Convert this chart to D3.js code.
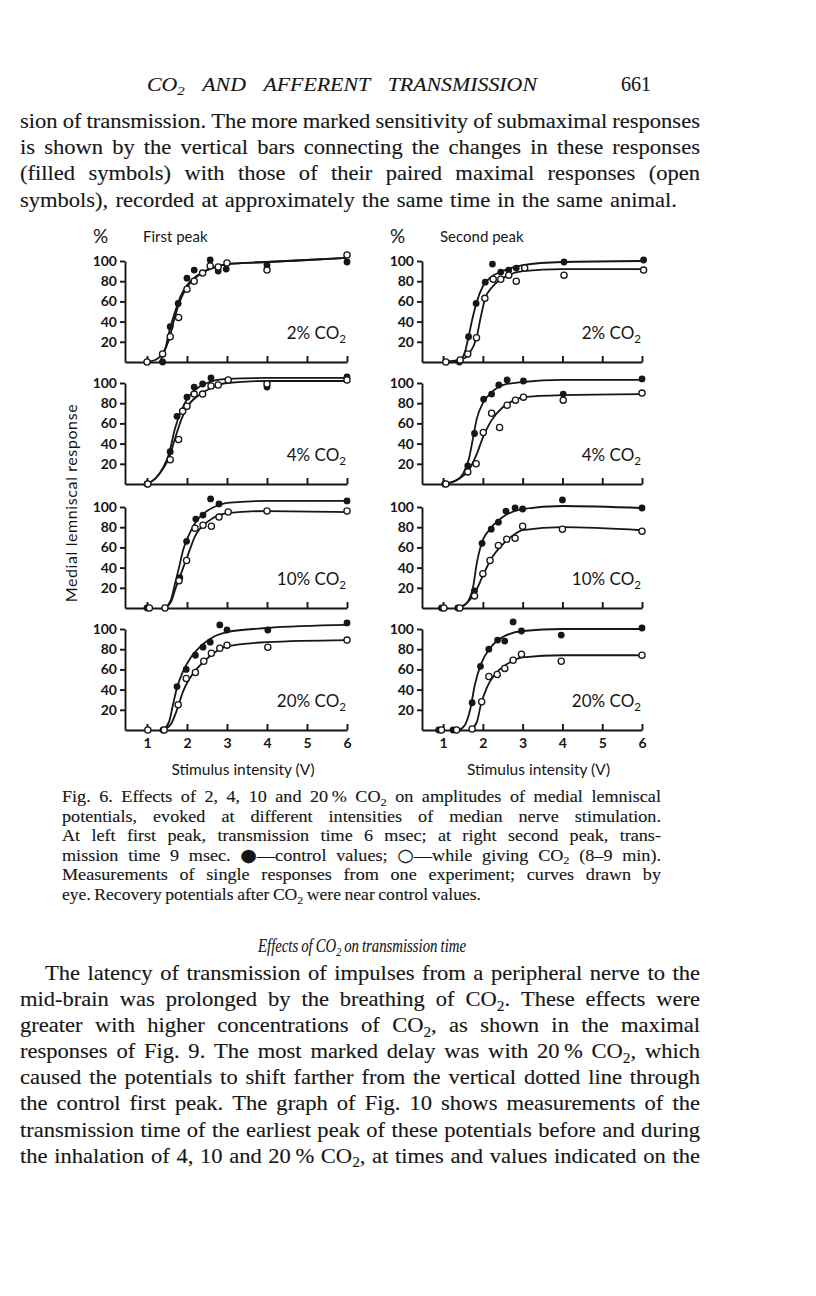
<!DOCTYPE html>
<html>
<head>
<meta charset="utf-8">
<script src="https://cdnjs.cloudflare.com/ajax/libs/d3/7.8.5/d3.min.js"></script>
<style>
  body { margin: 0; background: #fff; }
  svg { display: block; }
</style>
</head>
<body>
<svg id="page" width="816" height="1296"></svg>
<script>
// ---- data (x = stimulus in V, y = % of max response) ----
const peaks = ["First peak", "Second peak"];
const concentrations = ["2% CO_2", "4% CO_2", "10% CO_2", "20% CO_2"];
const xTicks = [1, 2, 3, 4, 5, 6];
const yTicks = [20, 40, 60, 80, 100];

// first peak
const first2Control = [[1.39,0],[1.58,35],[1.78,58],[2.0,83],[2.18,91],[2.58,101],[2.78,90],[2.98,92],[4.0,96],[6.0,99]];
const first2CO2 = [[1.0,0],[1.39,8],[1.58,25],[1.79,44],[2.0,72],[2.18,80],[2.39,88],[2.58,95],[2.78,94],[3.0,98],[4.0,91],[6.0,106]];
const first2ControlCurve = [[1.32,0],[1.45,12],[1.58,34],[1.72,52],[1.85,66],[2.0,76],[2.2,84],[2.5,91],[2.8,95],[3.0,97],[4.0,99],[6.0,103]];
const first2CO2Curve = [[1.0,0],[1.25,3],[1.4,9],[1.55,22],[1.68,42],[1.82,60],[2.0,74],[2.2,83],[2.5,91],[2.8,95],[3.0,97],[4.0,99],[6.0,103]];

const first4Control = [[1.0,0],[1.58,32],[1.75,67],[2.0,86],[2.18,96],[2.39,99],[2.6,105],[4.0,96],[6.0,106]];
const first4CO2 = [[1.02,0],[1.58,24],[1.79,44],[1.89,72],[2.0,77],[2.18,89],[2.39,89],[2.6,97],[2.78,98],[3.03,103],[4.0,99],[6.0,103]];
const first4ControlCurve = [[1.0,0],[1.2,5],[1.4,16],[1.55,30],[1.7,55],[1.85,72],[2.0,84],[2.2,93],[2.5,100],[3.0,104],[4.0,105],[6.0,105]];
const first4CO2Curve = [[1.0,0],[1.2,5],[1.4,15],[1.55,26],[1.7,45],[1.85,63],[2.0,76],[2.3,88],[2.6,95],[3.0,100],[4.0,102],[6.0,102]];

const first10Control = [[1.0,0],[1.82,30],[1.99,66],[2.22,88],[2.4,92],[2.59,108],[2.8,103],[6.0,106]];
const first10CO2 = [[1.06,0],[1.45,0],[1.8,27],[1.99,47],[2.2,79],[2.4,82],[2.61,81],[2.8,90],[3.03,95],[4.0,96],[6.0,96]];
const first10ControlCurve = [[1.45,0],[1.6,8],[1.7,24],[1.8,40],[1.9,57],[2.0,68],[2.2,84],[2.5,96],[2.8,102],[3.0,104],[4.0,106],[6.0,106]];
const first10CO2Curve = [[1.45,0],[1.6,6],[1.72,20],[1.85,34],[2.0,50],[2.2,71],[2.5,85],[2.8,92],[3.0,94],[4.0,96],[6.0,95]];

const first20Control = [[1.4,0],[1.75,43],[1.98,60],[2.21,74],[2.4,82],[2.58,87],[2.82,104],[3.0,99],[4.02,99],[6.0,106]];
const first20CO2 = [[1.02,0],[1.43,0],[1.78,25],[1.98,51],[2.21,57],[2.42,68],[2.61,76],[2.82,81],[3.0,84],[4.02,82],[6.0,89]];
const first20ControlCurve = [[1.4,0],[1.55,8],[1.65,25],[1.75,42],[1.9,58],[2.1,72],[2.4,85],[2.7,93],[3.0,97],[4.0,101],[6.0,104]];
const first20CO2Curve = [[1.4,0],[1.6,6],[1.75,20],[1.9,38],[2.05,50],[2.3,63],[2.6,74],[3.0,83],[4.0,87],[6.0,89]];

// second peak
const second2Control = [[1.41,0],[1.64,25],[1.83,58],[2.06,79],[2.24,97],[2.45,89],[2.65,91],[2.84,93],[4.04,99],[6.04,101]];
const second2CO2 = [[1.07,0],[1.43,2],[1.62,8],[1.84,24],[2.05,63],[2.26,82],[2.45,82],[2.65,86],[2.84,80],[3.05,93],[4.04,86],[6.04,91]];
const second2ControlCurve = [[1.0,0],[1.4,1],[1.55,10],[1.64,25],[1.75,45],[1.85,60],[2.0,75],[2.2,84],[2.5,90],[3.0,96],[4.0,99],[6.0,100]];
const second2CO2Curve = [[1.0,0],[1.5,3],[1.65,8],[1.84,24],[1.95,45],[2.05,62],[2.25,75],[2.5,83],[3.0,90],[4.0,92],[6.0,92]];

const second4Control = [[1.04,0],[1.62,18],[1.79,50],[2.02,84],[2.22,89],[2.4,98],[2.61,103],[3.02,102],[4.02,89],[6.0,104]];
const second4CO2 = [[1.07,0],[1.62,12],[1.83,20],[2.01,51],[2.22,70],[2.42,56],[2.61,78],[2.82,83],[3.02,86],[4.02,83],[6.0,90]];
const second4ControlCurve = [[1.0,0],[1.3,3],[1.5,10],[1.65,25],[1.75,45],[1.85,65],[2.0,80],[2.2,90],[2.5,98],[3.0,101],[4.0,103],[6.0,103]];
const second4CO2Curve = [[1.0,0],[1.4,5],[1.65,14],[1.85,30],[2.0,46],[2.2,62],[2.5,76],[2.8,83],[3.0,86],[4.0,88],[6.0,89]];

const second10Control = [[0.96,0],[1.37,0],[1.79,17],[1.98,64],[2.21,78],[2.39,85],[2.58,96],[2.81,99],[3.0,98],[4.0,107],[6.0,99]];
const second10CO2 = [[1.02,0],[1.42,0],[1.79,12],[2.0,34],[2.18,47],[2.39,62],[2.6,68],[2.81,69],[3.0,81],[4.0,78],[6.0,76]];
const second10ControlCurve = [[1.4,0],[1.6,5],[1.75,20],[1.85,45],[1.95,62],[2.2,79],[2.5,90],[3.0,98],[4.0,101],[6.0,99]];
const second10CO2Curve = [[1.4,0],[1.6,5],[1.8,15],[2.0,32],[2.2,48],[2.5,63],[2.8,73],[3.0,77],[4.0,80],[6.0,77]];

const second20Control = [[0.89,0],[1.25,0],[1.73,27],[1.94,63],[2.15,80],[2.37,89],[2.55,88],[2.76,107],[2.97,98],[3.97,94],[6.0,101]];
const second20CO2 = [[0.96,0],[1.34,0],[1.73,1],[1.97,28],[2.15,53],[2.36,55],[2.55,61],[2.76,69],[2.97,75],[3.97,68],[6.0,74]];
const second20ControlCurve = [[1.4,0],[1.55,5],[1.68,20],[1.8,45],[1.95,65],[2.2,82],[2.5,92],[3.0,98],[4.0,100],[6.0,100]];
const second20CO2Curve = [[1.7,0],[1.85,8],[1.95,25],[2.1,42],[2.3,55],[2.6,65],[3.0,72],[4.0,74],[6.0,74]];

// page text
const headerLine = "CO_2 AND AFFERENT TRANSMISSION";
const pageNumber = "661";
const paraTop = [
  "sion of transmission. The more marked sensitivity of submaximal responses",
  "is shown by the vertical bars connecting the changes in these responses",
  "(filled symbols) with those of their paired maximal responses (open",
  "symbols), recorded at approximately the same time in the same animal."
];
const caption = [
  "Fig. 6. Effects of 2, 4, 10 and 20\u2009% CO_2 on amplitudes of medial lemniscal",
  "potentials, evoked at different intensities of median nerve stimulation.",
  "At left first peak, transmission time 6 msec; at right second peak, trans-",
  "mission time 9 msec. \u25CF\u2014control values; \u25CB\u2014while giving CO_2 (8\u20139 min).",
  "Measurements of single responses from one experiment; curves drawn by",
  "eye. Recovery potentials after CO_2 were near control values."
];
const sectionTitle = "Effects of CO_2 on transmission time";
const paraBottom = [
  "The latency of transmission of impulses from a peripheral nerve to the",
  "mid-brain was prolonged by the breathing of CO_2. These effects were",
  "greater with higher concentrations of CO_2, as shown in the maximal",
  "responses of Fig. 9. The most marked delay was with 20\u2009% CO_2, which",
  "caused the potentials to shift farther from the vertical dotted line through",
  "the control first peak. The graph of Fig. 10 shows measurements of the",
  "transmission time of the earliest peak of these potentials before and during",
  "the inhalation of 4, 10 and 20\u2009% CO_2, at times and values indicated on the"
];

// ---- drawing ----
const ink = "#161616";
const serif = "'Liberation Serif', 'DejaVu Serif', serif";
const sans = "Lato, 'Open Sans', sans-serif";
const svg = d3.select("#page");

// text with "_2" as a subscript 2; big round symbols for the legend glyphs
function richText(parent, str, size, family, italic) {
  const t = parent.append("text")
    .attr("font-family", family)
    .attr("font-size", size)
    .attr("font-style", italic ? "italic" : "normal")
    .attr("fill", ink);
  const addPlain = (s, dy) => {
    s.split(/([\u25CF\u25CB])/).forEach((p, k) => {
      if (!p) return;
      const sp = t.append("tspan").text(p);
      if (k % 2 === 1) sp.attr("font-family", "'DejaVu Sans'").attr("font-size", size * 1.05);
      if (dy) { sp.attr("dy", dy); dy = 0; }
    });
  };
  str.split("_2").forEach((bit, i) => {
    if (i > 0) {
      t.append("tspan").attr("font-size", size * 0.68).attr("dy", size * 0.22).text("2");
      if (bit) addPlain(bit, -size * 0.22);
    } else if (bit) {
      addPlain(bit, 0);
    }
  });
  return t;
}

// one line of set type: glyphs widened a little (the original face is broad),
// then word gaps spread so the line fills x0..x1 when justified
function textLine(str, x0, x1, y, size, family, italic, justify, sx) {
  const g = svg.append("g");
  const words = str.split(" ").map(w => richText(g, w, size, family, italic));
  words.forEach(w => w.attr("stroke", ink).attr("stroke-width", 0.12));
  const widths = words.map(w => w.node().getComputedTextLength());
  const sum = d3.sum(widths);
  const space = size * 0.25;
  const n = words.length;
  let scale = justify ? Math.min(sx, (x1 - x0) / (sum + (n - 1) * space * 0.8)) : sx;
  const avail = (x1 - x0) / scale;
  const gap = justify && n > 1 ? (avail - sum) / (n - 1) : space;
  g.attr("transform", `translate(${x0},0) scale(${scale},1) translate(${-x0},0)`);
  let x = x0;
  words.forEach((w, i) => {
    w.attr("x", x).attr("y", y);
    x += widths[i] + gap;
  });
}

// running head
textLine(headerLine, 147, 537, 91, 19, serif, true, true, 1.15);
svg.append("text").attr("x", 651).attr("y", 91).attr("text-anchor", "end")
  .attr("font-family", serif).attr("font-size", 20).attr("fill", ink)
  .attr("stroke", ink).attr("stroke-width", 0.12).text(pageNumber);

paraTop.forEach((l, i) => textLine(l, 20, i === 3 ? 677 : 700, 128 + i * 26.2, 20.5, serif, false, true, 1.1));

caption.forEach((l, i) => textLine(l, 62, i === 5 ? 481 : 661, 802 + i * 19.6, 16.5, serif, false, true, 1.1));

// condensed italic section heading
textLine(sectionTitle, 258, 466, 952, 18.5, serif, true, true, 1.0);

paraBottom.forEach((l, i) => textLine(l, i === 0 ? 45 : 20, 700, 980 + i * 26.1, 20.5, serif, false, true, 1.1));

// ---- the eight panels ----
const series = {
  "First peak": [
    [first2Control, first2CO2, first2ControlCurve, first2CO2Curve],
    [first4Control, first4CO2, first4ControlCurve, first4CO2Curve],
    [first10Control, first10CO2, first10ControlCurve, first10CO2Curve],
    [first20Control, first20CO2, first20ControlCurve, first20CO2Curve]
  ],
  "Second peak": [
    [second2Control, second2CO2, second2ControlCurve, second2CO2Curve],
    [second4Control, second4CO2, second4ControlCurve, second4CO2Curve],
    [second10Control, second10CO2, second10ControlCurve, second10CO2Curve],
    [second20Control, second20CO2, second20ControlCurve, second20CO2Curve]
  ]
};

const xScales = [
  d3.scaleLinear().domain([0.45, 6]).range([125, 347]),
  d3.scaleLinear().domain([0.47, 6]).range([422, 642])
];
const baselines = [362, 484, 608, 730];
const panelHeight = 101;

peaks.forEach((peak, c) => {
  const x = xScales[c];
  const x0 = x.range()[0];

  // column heading
  svg.append("text").attr("x", x0 - 32).attr("y", 243)
    .attr("font-family", sans).attr("font-size", 19).attr("fill", ink).text("%");
  svg.append("text").attr("x", x0 + 18).attr("y", 242)
    .attr("font-family", sans).attr("font-size", 15).attr("fill", ink).text(peak);

  concentrations.forEach((conc, r) => {
    const base = baselines[r];
    const y = d3.scaleLinear().domain([0, 100]).range([base, base - panelHeight]);
    const [ctrl, co2, ctrlCurve, co2Curve] = series[peak][r];
    const g = svg.append("g");

    const xAxis = d3.axisBottom(x).tickValues(xTicks)
      .tickSizeInner(-6).tickSizeOuter(0).tickPadding(8)
      .tickFormat(r === 3 ? d3.format("d") : "");
    const yAxis = d3.axisLeft(y).tickValues(yTicks)
      .tickSizeInner(5).tickSizeOuter(0).tickPadding(3);

    [g.append("g").attr("transform", `translate(0,${base})`).call(xAxis),
     g.append("g").attr("transform", `translate(${x0},0)`).call(yAxis)]
      .forEach(ax => {
        ax.selectAll("path, line").attr("stroke", ink).attr("stroke-width", 1.9);
        ax.selectAll("text").attr("font-family", sans).attr("font-size", 14)
          .attr("font-weight", 700).attr("fill", ink);
      });

    const line = d3.line().x(d => x(d[0])).y(d => y(d[1])).curve(d3.curveMonotoneX);
    [ctrlCurve, co2Curve].forEach(cv => {
      g.append("path").attr("d", line(cv)).attr("fill", "none")
        .attr("stroke", ink).attr("stroke-width", 1.8);
    });

    g.selectAll(".ctrl").data(ctrl).enter().append("circle")
      .attr("class", "ctrl")
      .attr("cx", d => x(d[0])).attr("cy", d => y(d[1])).attr("r", 3.4)
      .attr("fill", ink);
    g.selectAll(".co2").data(co2).enter().append("circle")
      .attr("class", "co2")
      .attr("cx", d => x(d[0])).attr("cy", d => y(d[1])).attr("r", 3.1)
      .attr("fill", "#fff").attr("stroke", ink).attr("stroke-width", 1.3);

    richText(g, conc, 17, sans, false)
      .attr("x", x(6) - 1).attr("y", base - 23).attr("text-anchor", "end");
  });

  svg.append("text").attr("x", (x(1) + x(6)) / 2 - 4).attr("y", 775)
    .attr("text-anchor", "middle").attr("font-family", sans).attr("font-size", 15.5)
    .attr("fill", ink).text("Stimulus intensity (V)");
});

svg.append("text")
  .attr("transform", "translate(77,503) rotate(-90)")
  .attr("text-anchor", "middle").attr("font-family", sans).attr("font-size", 16)
  .attr("letter-spacing", 0.6).attr("fill", ink).text("Medial lemniscal response");
</script>
</body>
</html>
